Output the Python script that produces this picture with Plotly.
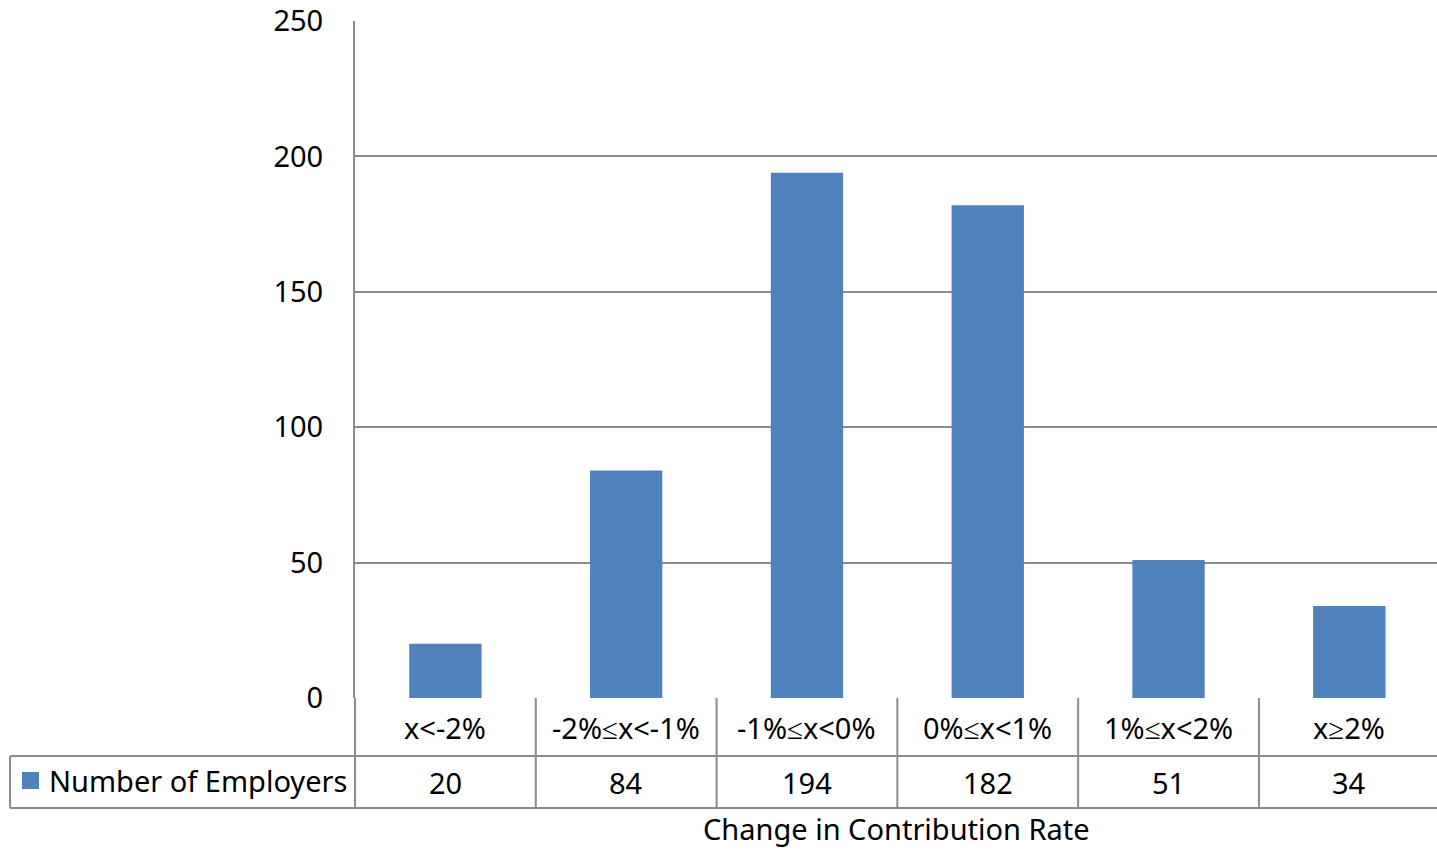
import plotly.graph_objects as go

# Employers grouped by change in contribution rate
categories = ["x<-2%", "-2%≤x<-1%", "-1%≤x<0%", "0%≤x<1%", "1%≤x<2%", "x≥2%"]
employers = [20, 84, 194, 182, 51, 34]
series_name = "Number of Employers"
axis_title = "Change in Contribution Rate"
y_ticks = [0, 50, 100, 150, 200, 250]

W, H = 1437, 850
ML, MR, MT, MB = 355, 0, 21, 152
plot_w = W - ML - MR
plot_h = H - MT - MB

BAR = "#4F81BD"
LINE = "#8C8C8C"
FONT = "Noto Sans"
FS = 29

n = len(categories)
idx = list(range(n))
# the last table column runs slightly past the right edge of the page
x_lo, x_hi = -0.5, n - 0.515
span = x_hi - x_lo

fig = go.Figure()
fig.add_trace(go.Bar(x=idx, y=employers, width=0.4, marker=dict(color=BAR, line=dict(width=0)),
                     name=series_name, showlegend=False))


def px_to_py(py):
    """pixel row -> paper y"""
    return (H - MB - py) / plot_h


def px_to_px(px):
    """pixel column -> paper x"""
    return (px - ML) / plot_w


def cat_to_px(c):
    """category coordinate -> paper x"""
    return (c - x_lo) / span


row1_top = px_to_py(698)
row1_bot = px_to_py(756)
row2_bot = px_to_py(808)
legend_left = px_to_px(10)

shapes = []
line = dict(color=LINE, width=2)
# column separators of the data table
for k in range(n + 1):
    xp = cat_to_px(k - 0.5)
    if xp > 1:
        continue
    shapes.append(dict(type="line", xref="paper", yref="paper", x0=xp, x1=xp,
                       y0=row1_top, y1=row2_bot, line=line))
# horizontal rules of the data table
for yy in (row1_bot, row2_bot):
    shapes.append(dict(type="line", xref="paper", yref="paper", x0=legend_left, x1=1,
                       y0=yy, y1=yy, line=line))
shapes.append(dict(type="line", xref="paper", yref="paper", x0=legend_left, x1=legend_left,
                   y0=row1_bot, y1=row2_bot, line=line))
# legend key square
shapes.append(dict(type="rect", xref="paper", yref="paper",
                   x0=px_to_px(22), x1=px_to_px(39), y0=px_to_py(789), y1=px_to_py(772),
                   fillcolor=BAR, line=dict(width=0)))

txt = dict(family=FONT, size=FS, color="black")
annotations = []
for i, (c, v) in enumerate(zip(categories, employers)):
    xc = cat_to_px(i)
    annotations.append(dict(text=c, x=xc, y=px_to_py(727), xref="paper", yref="paper",
                            xanchor="center", yanchor="middle", showarrow=False, font=txt))
    annotations.append(dict(text=str(v), x=xc, y=px_to_py(782), xref="paper", yref="paper",
                            xanchor="center", yanchor="middle", showarrow=False, font=txt))
annotations.append(dict(text=series_name, x=px_to_px(47), y=px_to_py(780),
                        xref="paper", yref="paper", xanchor="left", yanchor="middle",
                        showarrow=False, font=txt))
annotations.append(dict(text=axis_title, x=px_to_px(896), y=px_to_py(828),
                        xref="paper", yref="paper", xanchor="center", yanchor="middle",
                        showarrow=False, font=txt))

fig.update_layout(
    width=W, height=H,
    margin=dict(l=ML, r=MR, t=MT, b=MB, pad=0),
    plot_bgcolor="white", paper_bgcolor="white",
    shapes=shapes, annotations=annotations,
    font=txt,
    xaxis=dict(range=[x_lo, x_hi], showticklabels=False, showgrid=False, zeroline=False,
               showline=False, ticks=""),
    yaxis=dict(range=[0, 250], tickvals=y_ticks, showgrid=True, gridcolor=LINE, gridwidth=2,
               zeroline=False, showline=True, linecolor=LINE, linewidth=2,
               ticks="", ticklabelstandoff=24, tickfont=txt),
)

fig.write_html("out.html")
